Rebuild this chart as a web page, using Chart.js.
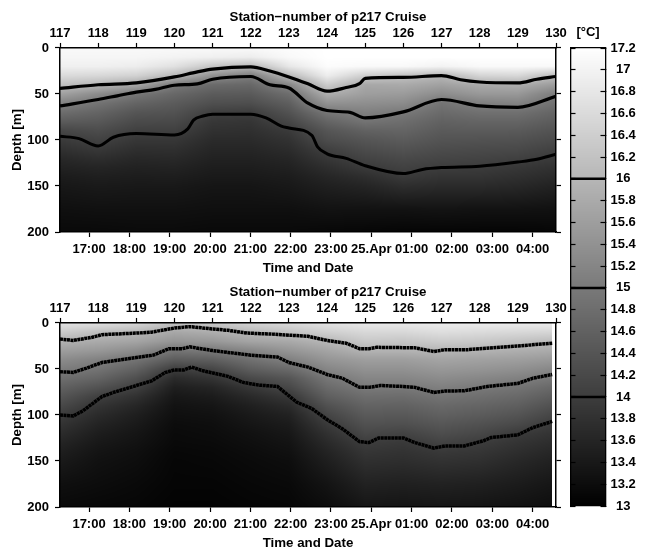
<!DOCTYPE html>
<html>
<head>
<meta charset="utf-8">
<style>
  html, body { margin: 0; padding: 0; background: #fff; }
  canvas { position: absolute; left: 0; }
</style>
<script src="https://cdn.jsdelivr.net/npm/chart.js@4"></script>
</head>
<body>
<canvas id="topChart" width="656" height="276" style="top:0"></canvas>
<canvas id="bottomChart" width="656" height="276" style="top:275px"></canvas>
<canvas id="barChart" width="96" height="552" style="top:0;left:560px"></canvas>
<script>
const titleText = "Station\u2212number of p217 Cruise";
const timeTicks = [17, 18, 19, 20, 21, 22, 23, 24, 25, 26, 27, 28];
const timeLabels = ["17:00", "18:00", "19:00", "20:00", "21:00", "22:00", "23:00", "25.Apr", "01:00", "02:00", "03:00", "04:00"];
const barTicks = [13, 13.2, 13.4, 13.6, 13.8, 14, 14.2, 14.4, 14.6, 14.8, 15, 15.2, 15.4, 15.6, 15.8, 16, 16.2, 16.4, 16.6, 16.8, 17, 17.2];
const barLevels = [14, 15, 16];

// temperature field, one row per station, one value per depth
const fieldStations = [117, 118, 119, 120, 121, 122, 123, 124, 125, 126, 127, 128, 129, 130];
const fieldDepths = [0, 10, 20, 30, 40, 50, 60, 70, 80, 90, 100, 110, 120, 130, 140, 150, 175, 200];
const topField = [
  [17.1, 17.05, 16.95, 16.6, 16.15, 15.65, 15.15, 14.8, 14.5, 14.15, 13.95, 13.8, 13.65, 13.55, 13.45, 13.38, 13.25, 13.15],
  [17.1, 17.05, 16.95, 16.55, 16.0, 15.3, 14.9, 14.65, 14.45, 14.25, 14.08, 13.92, 13.75, 13.6, 13.5, 13.42, 13.27, 13.15],
  [17.1, 17.05, 16.9, 16.45, 15.75, 14.95, 14.65, 14.4, 14.22, 14.05, 13.9, 13.77, 13.65, 13.55, 13.47, 13.4, 13.27, 13.17],
  [17.1, 17.0, 16.7, 16.05, 15.0, 14.7, 14.5, 14.35, 14.2, 14.05, 13.9, 13.78, 13.67, 13.57, 13.48, 13.4, 13.27, 13.17],
  [17.1, 16.95, 16.25, 15.4, 14.75, 14.5, 14.3, 14.05, 13.9, 13.8, 13.7, 13.62, 13.55, 13.48, 13.42, 13.35, 13.25, 13.15],
  [17.1, 16.9, 16.0, 15.05, 14.7, 14.48, 14.28, 14.0, 13.87, 13.78, 13.7, 13.62, 13.55, 13.48, 13.42, 13.35, 13.25, 13.15],
  [17.15, 17.1, 16.8, 16.05, 15.2, 14.8, 14.55, 14.35, 14.15, 13.95, 13.82, 13.72, 13.62, 13.54, 13.46, 13.4, 13.25, 13.15],
  [17.2, 17.2, 17.15, 16.9, 16.35, 15.85, 15.4, 14.95, 14.65, 14.4, 14.25, 14.05, 13.9, 13.75, 13.62, 13.52, 13.3, 13.12],
  [17.2, 17.2, 17.1, 16.4, 15.75, 15.6, 15.35, 15.1, 14.9, 14.6, 14.4, 14.25, 14.1, 13.95, 13.75, 13.6, 13.3, 13.1],
  [17.2, 17.2, 17.1, 16.2, 15.8, 15.55, 15.3, 15.0, 14.8, 14.65, 14.5, 14.35, 14.2, 14.07, 13.95, 13.75, 13.3, 13.08],
  [17.2, 17.2, 17.0, 16.0, 15.65, 15.3, 14.9, 14.75, 14.6, 14.48, 14.37, 14.25, 14.13, 14.0, 13.85, 13.7, 13.32, 13.08],
  [17.2, 17.2, 17.1, 16.5, 15.8, 15.5, 15.1, 14.85, 14.65, 14.5, 14.35, 14.22, 14.1, 13.98, 13.85, 13.7, 13.3, 13.08],
  [17.2, 17.2, 17.1, 16.55, 15.85, 15.5, 15.15, 14.85, 14.65, 14.48, 14.33, 14.2, 14.05, 13.9, 13.78, 13.65, 13.3, 13.08],
  [17.2, 17.2, 17.1, 16.1, 15.55, 15.05, 14.85, 14.65, 14.5, 14.35, 14.22, 14.07, 13.95, 13.8, 13.68, 13.55, 13.28, 13.1]
];
const bottomField = [
  [16.75, 16.35, 15.93, 15.6, 15.3, 15.06, 14.82, 14.6, 14.4, 14.2, 14.0, 13.85, 13.72, 13.6, 13.5, 13.42, 13.25, 13.15],
  [16.7, 16.15, 15.8, 15.5, 15.12, 14.9, 14.65, 14.35, 14.05, 13.85, 13.7, 13.58, 13.48, 13.4, 13.33, 13.28, 13.2, 13.12],
  [16.55, 16.03, 15.7, 15.3, 14.9, 14.6, 14.3, 14.05, 13.8, 13.62, 13.5, 13.42, 13.35, 13.3, 13.25, 13.22, 13.15, 13.1],
  [16.2, 15.75, 15.45, 14.92, 14.5, 14.02, 13.7, 13.5, 13.38, 13.3, 13.25, 13.2, 13.17, 13.15, 13.12, 13.1, 13.08, 13.05],
  [16.3, 15.85, 15.5, 15.0, 14.55, 14.15, 13.85, 13.6, 13.45, 13.35, 13.28, 13.23, 13.2, 13.17, 13.14, 13.12, 13.08, 13.05],
  [16.5, 16.03, 15.7, 15.2, 14.85, 14.55, 14.2, 13.9, 13.68, 13.52, 13.42, 13.35, 13.28, 13.24, 13.2, 13.17, 13.12, 13.08],
  [16.6, 16.2, 15.78, 15.45, 15.1, 14.75, 14.4, 14.17, 13.9, 13.7, 13.55, 13.45, 13.38, 13.32, 13.27, 13.22, 13.15, 13.1],
  [16.75, 16.4, 16.0, 15.7, 15.45, 15.2, 14.95, 14.75, 14.55, 14.32, 14.12, 13.95, 13.8, 13.68, 13.58, 13.5, 13.32, 13.2],
  [16.85, 16.55, 16.3, 15.95, 15.6, 15.4, 15.2, 15.0, 14.8, 14.63, 14.48, 14.33, 14.17, 14.0, 13.88, 13.78, 13.55, 13.35],
  [16.85, 16.55, 16.25, 15.95, 15.6, 15.4, 15.2, 14.98, 14.78, 14.6, 14.45, 14.3, 14.1, 13.93, 13.83, 13.75, 13.52, 13.33],
  [16.9, 16.65, 16.35, 16.0, 15.7, 15.5, 15.3, 15.1, 14.9, 14.72, 14.58, 14.42, 14.27, 14.1, 13.93, 13.82, 13.55, 13.35],
  [16.9, 16.6, 16.3, 15.95, 15.65, 15.45, 15.22, 15.0, 14.82, 14.65, 14.5, 14.33, 14.17, 14.0, 13.88, 13.78, 13.52, 13.33],
  [16.9, 16.55, 16.2, 15.87, 15.6, 15.37, 15.12, 14.9, 14.72, 14.55, 14.38, 14.2, 13.97, 13.85, 13.75, 13.65, 13.45, 13.28],
  [16.9, 16.5, 16.08, 15.8, 15.5, 15.22, 14.95, 14.7, 14.5, 14.3, 14.12, 13.95, 13.83, 13.72, 13.62, 13.53, 13.35, 13.22]
];

// isotherms [station, depth]
const top16 = [[117,44],[118,40],[119,38],[120,31.5],[120.6,26],[121,23],[122,20.5],[122.5,25],[123,31.5],[123.5,39],[124,47],[124.5,43],[124.85,38.8],[125,33],[126,32],[127,30],[127.5,34.5],[128,37],[129,38],[129.5,34],[130,31]];
const top15 = [[117,63],[118,56],[118.5,52],[119,48],[119.5,45],[120,40.5],[120.6,39],[121,34],[122,31],[122.5,40],[123,43.5],[123.5,60],[124,68],[124.6,70],[125,76],[126,69.5],[127,56],[128,63],[129,64.5],[130,52.5]];
const top14 = [[117,96],[117.5,98.5],[118,106.5],[118.4,97],[119,93],[120,94.5],[120.35,88],[120.5,78.5],[120.75,74],[121,72],[122,72],[122.4,76],[122.8,85],[123,87],[123.6,95],[123.75,107.5],[124,115],[124.5,120],[125,128],[126,136.5],[126.5,132],[127,130],[128,128.5],[129,124],[129.5,121],[130,115.5]];
const bottom16 = [[117,17.5],[117.35,19],[117.85,15.5],[118.1,12.7],[119,11],[119.4,10],[120,5.5],[120.4,4],[121,6.5],[121.4,8],[121.9,11],[122.5,12],[123.5,14.5],[124,19],[124.5,22],[124.85,28],[125.1,28],[125.3,26.5],[126.3,27],[126.8,31],[127.1,29],[127.7,29],[129,25],[129.9,22]];
const bottom15 = [[117,53],[117.35,53.7],[117.7,49],[118.1,43],[119,37.5],[119.45,35],[119.85,28],[120.2,28],[120.4,26],[121,30],[121.4,32],[122,35],[122.7,37],[123,43],[123.5,48],[124,56],[124.4,60],[124.85,70],[125.1,70],[125.4,68],[126,69],[126.3,70],[126.8,75.5],[127.1,74],[127.6,73.7],[128.2,69],[129,65.7],[129.4,60],[129.9,56]];
const bottom14 = [[117,100],[117.35,101],[117.6,95.5],[118.1,80],[118.4,75.5],[119,68],[119.4,63],[119.75,54],[120,51],[120.25,51],[120.45,48],[120.75,52],[121.4,58],[121.8,64.6],[122.2,67.5],[122.7,69],[123.2,86],[123.6,93],[124,105],[124.4,115],[124.85,129],[125.1,130],[125.35,125],[126,125],[126.3,130],[126.8,136],[127.1,133.6],[127.6,133.6],[128.1,128],[128.3,124.5],[129,121.6],[129.4,113.6],[129.9,107]];

const FONT = "'Liberation Sans', Arial, sans-serif";
const font13 = { family: FONT, size: 13, weight: "bold" };
const fontTitle = { family: FONT, size: 13.3, weight: "bold" };
const grayMin = 13, grayMax = 17.2;

function grayOf(t) {
  let g = Math.round((t - grayMin) / (grayMax - grayMin) * 255);
  return Math.max(0, Math.min(255, g));
}

function lerpIndex(arr, v) {
  let i = 0;
  while (i < arr.length - 2 && arr[i + 1] < v) i++;
  return [i, (v - arr[i]) / (arr[i + 1] - arr[i])];
}

// paints the field under the axes, pixel by pixel via the chart's scales
function fieldPlugin(values, lastStation) {
  return {
    id: "field",
    beforeDraw(chart) {
      const a = chart.chartArea, xs = chart.scales.station, ys = chart.scales.depth;
      const right = Math.round(xs.getPixelForValue(lastStation));
      const w = right - Math.round(a.left), h = Math.round(a.bottom - a.top);
      const off = document.createElement("canvas");
      off.width = w; off.height = h;
      const octx = off.getContext("2d");
      const img = octx.createImageData(w, h);
      for (let py = 0; py < h; py++) {
        const [j, fy] = lerpIndex(fieldDepths, ys.getValueForPixel(a.top + py + 0.5));
        for (let px = 0; px < w; px++) {
          const [i, fx] = lerpIndex(fieldStations, xs.getValueForPixel(a.left + px + 0.5));
          const t0 = values[i][j] + (values[i][j + 1] - values[i][j]) * fy;
          const t1 = values[i + 1][j] + (values[i + 1][j + 1] - values[i + 1][j]) * fy;
          const g = grayOf(t0 + (t1 - t0) * fx);
          const k = (py * w + px) * 4;
          img.data[k] = img.data[k + 1] = img.data[k + 2] = g;
          img.data[k + 3] = 255;
        }
      }
      octx.putImageData(img, 0, 0);
      chart.ctx.drawImage(off, Math.round(a.left), Math.round(a.top));
    }
  };
}

const barPlugin = {
  id: "barFill",
  beforeDraw(chart) {
    const a = chart.chartArea, ys = chart.scales.temp, ctx = chart.ctx;
    for (let py = Math.round(a.top); py < a.bottom; py++) {
      const g = grayOf(ys.getValueForPixel(py + 0.5));
      ctx.fillStyle = "rgb(" + g + "," + g + "," + g + ")";
      ctx.fillRect(a.left, py, a.right - a.left, 1);
    }
  }
};

function lineSet(points, width, dash, smooth) {
  return {
    data: points.map((p) => ({ x: p[0], y: p[1] })),
    showLine: true,
    pointRadius: 0,
    borderColor: "#000",
    borderWidth: width,
    borderDash: dash,
    cubicInterpolationMode: smooth ? "monotone" : "default",
    xAxisID: "station",
    yAxisID: "depth"
  };
}

const tickLine = { drawOnChartArea: false, drawTicks: true, tickLength: 5, tickWidth: 1.2, tickColor: "#000" };
const edge = { color: "#000", width: 1.5 };

function panel(id, lines, values, lastStation) {
  return new Chart(document.getElementById(id), {
    type: "scatter",
    data: { datasets: lines },
    plugins: [fieldPlugin(values, lastStation)],
    options: {
      responsive: false,
      animation: false,
      events: [],
      layout: { padding: 0 },
      plugins: {
        legend: { display: false },
        tooltip: { enabled: false },
        title: {
          display: true, text: titleText, color: "#000", font: fontTitle,
          padding: { top: 9, bottom: 0 }
        }
      },
      scales: {
        station: {
          type: "linear", axis: "x", position: "top", min: 117, max: 130,
          border: edge, grid: tickLine,
          ticks: { stepSize: 1, color: "#000", font: font13, padding: 2, maxRotation: 0, autoSkip: false },
          afterFit(s) { s.height = 23; s.paddingLeft = 0; s.paddingRight = 0; }
        },
        time: {
          type: "linear", axis: "x", position: "bottom", min: 16.28, max: 28.58,
          border: edge, grid: tickLine,
          afterBuildTicks(s) { s.ticks = timeTicks.map((v) => ({ value: v })); },
          ticks: {
            color: "#000", font: font13, padding: 5, maxRotation: 0, autoSkip: false,
            callback: (v) => timeLabels[timeTicks.indexOf(v)]
          },
          title: { display: true, text: "Time and Date", color: "#000", font: fontTitle, padding: { top: 4, bottom: 0 } },
          afterFit(s) { s.height = 44; s.paddingLeft = 0; s.paddingRight = 0; }
        },
        depth: {
          type: "linear", axis: "y", position: "left", min: 0, max: 200, reverse: true,
          border: edge, grid: tickLine,
          ticks: { stepSize: 50, color: "#000", font: font13, padding: 6 },
          title: { display: true, text: "Depth [m]", color: "#000", font: fontTitle, padding: { top: 9, bottom: 4 } },
          afterFit(s) { s.width = 60; s.paddingTop = 0; s.paddingBottom = 0; }
        },
        depthRight: {
          type: "linear", axis: "y", position: "right", min: 0, max: 200, reverse: true,
          border: edge, grid: tickLine,
          ticks: { stepSize: 50, display: false },
          afterFit(s) { s.width = 100; s.paddingTop = 0; s.paddingBottom = 0; }
        }
      }
    }
  });
}

panel("topChart", [lineSet(top16, 3.2, [], true), lineSet(top15, 3.2, [], true), lineSet(top14, 3, [], true)], topField, 130);
panel("bottomChart", [lineSet(bottom16, 3.5, [3, 0.5], false), lineSet(bottom15, 3.5, [3, 0.5], false), lineSet(bottom14, 3.5, [3, 0.5], false)], bottomField, 129.9);

const barTick = { drawOnChartArea: false, drawTicks: true, tickLength: -5, tickWidth: 1.2, tickColor: "#000" };
const barEdge = { color: "#000", width: 1.3 };

new Chart(document.getElementById("barChart"), {
  type: "scatter",
  data: {
    datasets: barLevels.map((v) => ({
      data: [{ x: 0, y: v }, { x: 1, y: v }],
      showLine: true, pointRadius: 0, borderColor: "#000", borderWidth: 2.5,
      xAxisID: "cbx", yAxisID: "temp"
    }))
  },
  plugins: [barPlugin],
  options: {
    responsive: false,
    animation: false,
    events: [],
    layout: { padding: 0 },
    plugins: { legend: { display: false }, tooltip: { enabled: false } },
    scales: {
      cbx: {
        type: "linear", axis: "x", position: "top", min: 0, max: 1,
        border: barEdge, grid: { display: false },
        ticks: { display: false },
        title: { display: true, text: "[\u00b0C]", color: "#000", font: font13, padding: { top: 25, bottom: 0 } },
        afterFit(s) { s.height = 48; s.paddingLeft = 0; s.paddingRight = 0; }
      },
      cbxBottom: {
        type: "linear", axis: "x", position: "bottom", min: 0, max: 1,
        border: barEdge, grid: { display: false }, ticks: { display: false },
        afterFit(s) { s.height = 46; s.paddingLeft = 0; s.paddingRight = 0; }
      },
      tempLeft: {
        type: "linear", axis: "y", position: "left", min: 13, max: 17.2,
        border: barEdge, grid: barTick,
        afterBuildTicks(s) { s.ticks = barTicks.map((v) => ({ value: v })); },
        ticks: { display: false },
        afterFit(s) { s.width = 10.5; s.paddingTop = 0; s.paddingBottom = 0; }
      },
      temp: {
        type: "linear", axis: "y", position: "right", min: 13, max: 17.2,
        border: barEdge, grid: barTick,
        afterBuildTicks(s) { s.ticks = barTicks.map((v) => ({ value: v })); },
        ticks: {
          color: "#000", font: font13, padding: 10, crossAlign: "center", autoSkip: false,
          callback: (v) => String(v)
        },
        afterFit(s) { s.width = 50.5; s.paddingTop = 0; s.paddingBottom = 0; }
      }
    }
  }
});
</script>
</body>
</html>
